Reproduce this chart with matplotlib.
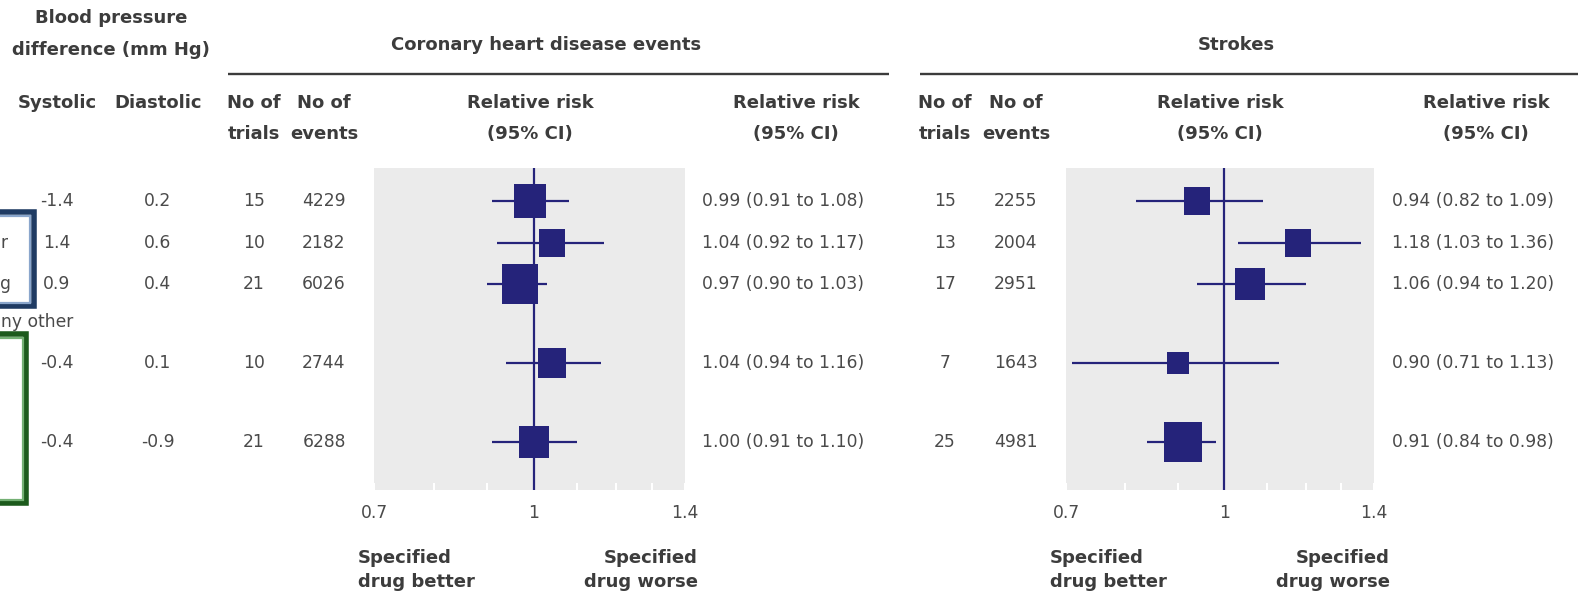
import matplotlib
matplotlib.use("Agg")
import matplotlib.pyplot as plt
from matplotlib.path import Path
from matplotlib.patches import Rectangle
from matplotlib.ticker import FixedLocator, FixedFormatter, NullFormatter
import numpy as np

# ---------------- data ----------------
systolic = [-1.4, 1.4, 0.9, -0.4, -0.4]
diastolic = [0.2, 0.6, 0.4, 0.1, -0.9]

chd_trials = [15, 10, 21, 10, 21]
chd_events = [4229, 2182, 6026, 2744, 6288]
chd_rr = [0.99, 1.04, 0.97, 1.04, 1.00]
chd_lo = [0.91, 0.92, 0.90, 0.94, 0.91]
chd_hi = [1.08, 1.17, 1.03, 1.16, 1.10]
chd_weight = [0.95, 0.60, 1.26, 0.72, 0.83]

stroke_trials = [15, 13, 17, 7, 25]
stroke_events = [2255, 2004, 2951, 1643, 4981]
stroke_rr = [0.94, 1.18, 1.06, 0.90, 0.91]
stroke_lo = [0.82, 1.03, 0.94, 0.71, 0.84]
stroke_hi = [1.09, 1.36, 1.20, 1.13, 0.98]
stroke_weight = [0.62, 0.62, 0.85, 0.42, 1.31]

axis_ticks = [0.7, 1, 1.4]
axis_tick_labels = ["0.7", "1", "1.4"]
minor_ticks = [0.8, 0.9, 1.1, 1.2, 1.3]

# fragments of row labels visible at the (cropped) left edge
edge_fragments = ["r", "g", "ny other"]

# ---------------- layout ----------------
W, H = 1594, 597
DPI = 100
fig = plt.figure(figsize=(W / DPI, H / DPI), dpi=DPI)
fig.patch.set_facecolor("white")

ax0 = fig.add_axes([0, 0, 1, 1])
ax0.set_xlim(0, W)
ax0.set_ylim(H, 0)
ax0.axis("off")

row_pos = [0, 1, 2, 3.9, 5.8]
ROW0, ROWSTEP = 201, 41.5
row_y = [ROW0 + ROWSTEP * p for p in row_pos]

HDR = dict(family="DejaVu Sans", fontweight="bold", fontsize=13, color="#3c3c3c")
NUM = dict(family="DejaVu Sans", fontsize=12.3, color="#4a4a4a")
NAVY = "#25237a"

def t(x, y, s, ha="center", style=HDR, **kw):
    ax0.text(x, y, s, ha=ha, va="center", **style, **kw)

# left header
t(111, 18, "Blood pressure")
t(111, 50, "difference (mm Hg)")
t(57, 103, "Systolic")
t(158, 103, "Diastolic")

# group titles and rules
t(546, 45, "Coronary heart disease events")
t(1236, 45, "Strokes")
ax0.plot([228, 889], [74, 74], color="#3c3c3c", lw=1.7, solid_capstyle="butt")
ax0.plot([920, 1578], [74, 74], color="#3c3c3c", lw=1.7, solid_capstyle="butt")

for cx_tr, cx_ev, cx_rr, cx_ci in [(254, 324, 530, 796), (945, 1016, 1220, 1486)]:
    t(cx_tr, 103, "No of")
    t(cx_tr, 134, "trials")
    t(cx_ev, 103, "No of")
    t(cx_ev, 134, "events")
    t(cx_rr, 103, "Relative risk")
    t(cx_rr, 134, "(95% CI)")
    t(cx_ci, 103, "Relative risk")
    t(cx_ci, 134, "(95% CI)")

# fragments and framing boxes at the left edge
t(1, row_y[1], edge_fragments[0], ha="left", style=NUM)
t(0, row_y[2], edge_fragments[1], ha="left", style=NUM)
t(1, 322, edge_fragments[2], ha="left", style=NUM)
for (top, bot, right, dark, light) in [(212, 306, 34, "#1f3b63", "#8aa6cc"),
                                       (334, 503, 26, "#1c5a1c", "#74b074")]:
    ax0.add_patch(Rectangle((-40, top), right + 40, bot - top, fill=False,
                            edgecolor=dark, lw=4.0, joinstyle="miter"))
    ax0.add_patch(Rectangle((-40, top + 3.5), right + 40 - 3.5, bot - top - 7,
                            fill=False, edgecolor=light, lw=1.6, joinstyle="miter"))

# numeric columns
for i, y in enumerate(row_y):
    t(57, y, f"{systolic[i]:.1f}", style=NUM)
    t(158, y, f"{diastolic[i]:.1f}", style=NUM)
    t(254, y, f"{chd_trials[i]}", style=NUM)
    t(324, y, f"{chd_events[i]}", style=NUM)
    t(702, y, f"{chd_rr[i]:.2f} ({chd_lo[i]:.2f} to {chd_hi[i]:.2f})", ha="left", style=NUM)
    t(945, y, f"{stroke_trials[i]}", style=NUM)
    t(1016, y, f"{stroke_events[i]}", style=NUM)
    t(1392, y, f"{stroke_rr[i]:.2f} ({stroke_lo[i]:.2f} to {stroke_hi[i]:.2f})", ha="left", style=NUM)

# box marker slightly taller than wide
_asp = 0.92
box_marker = Path([(-_asp, -1), (_asp, -1), (_asp, 1), (-_asp, 1), (-_asp, -1)],
                  [Path.MOVETO, Path.LINETO, Path.LINETO, Path.LINETO, Path.CLOSEPOLY])

PTOP, PBOT = 168, 490

def panel(x0, x1, rr, lo, hi, weight, better_x, worse_x):
    ax = fig.add_axes([x0 / W, 1 - PBOT / H, (x1 - x0) / W, (PBOT - PTOP) / H])
    ax.set_facecolor("#ebebeb")
    ax.set_xscale("log")
    ax.set_xlim(0.7, 1.4)
    ax.set_ylim(PBOT, PTOP)
    for s in ax.spines.values():
        s.set_visible(False)
    ax.axvline(1, color=NAVY, lw=1.6, zorder=2)
    ax.hlines(row_y, lo, hi, color=NAVY, lw=1.6, zorder=3)
    for i, y in enumerate(row_y):
        side_px = 32.5 * np.sqrt(weight[i])
        ax.plot([rr[i]], [y], marker=box_marker, markersize=side_px / _asp * 72 / DPI,
                color=NAVY, markeredgewidth=0, linestyle="none", zorder=4)
    ax.xaxis.set_major_locator(FixedLocator(axis_ticks))
    ax.xaxis.set_major_formatter(FixedFormatter(axis_tick_labels))
    ax.xaxis.set_minor_locator(FixedLocator(minor_ticks))
    ax.xaxis.set_minor_formatter(NullFormatter())
    ax.tick_params(axis="x", which="both", direction="in", length=5, width=1.5,
                   color="white", labelsize=12.3, labelcolor="#4a4a4a", pad=10,
                   top=False)
    ax.tick_params(axis="y", which="both", left=False, labelleft=False)
    # direction labels
    t(better_x, 558, "Specified", ha="left")
    t(better_x, 582, "drug better", ha="left")
    t(worse_x, 558, "Specified", ha="right")
    t(worse_x, 582, "drug worse", ha="right")
    return ax

panel(374, 685, chd_rr, chd_lo, chd_hi, chd_weight, 358, 698)
panel(1066, 1374, stroke_rr, stroke_lo, stroke_hi, stroke_weight, 1050, 1390)

fig.savefig("out.png", dpi=DPI, facecolor="white")
